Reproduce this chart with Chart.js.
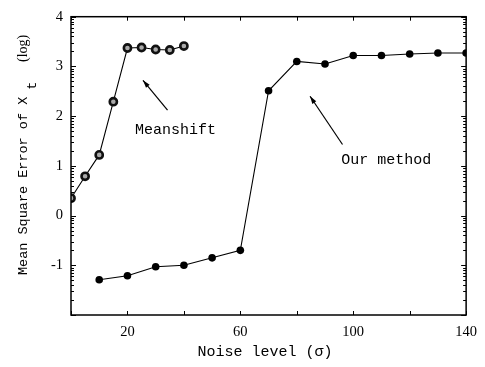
<!DOCTYPE html>
<html>
<head>
    <title>Mean Square Error vs Noise level</title>
    <style>
        body {margin: 0; background: #fff;}
        #wrap {width: 485px; height: 367px;}
    </style>
    <script src="https://cdn.jsdelivr.net/npm/chart.js"></script>
</head>
<body>
<div id="wrap"><canvas id="chart"></canvas></div>
<script>
    // noise level (sigma) and log10 of the error
    var meanshiftX = [0, 5, 10, 15, 20, 25, 30, 35, 40];
    var meanshiftY = [0.35, 0.79, 1.22, 2.29, 3.37, 3.38, 3.34, 3.33, 3.41];
    var ourX = [10, 20, 30, 40, 50, 60, 70, 80, 90, 100, 110, 120, 130, 140];
    var ourY = [-1.29, -1.21, -1.03, -1.0, -0.85, -0.70, 2.51, 3.10, 3.05, 3.22, 3.22, 3.25, 3.27, 3.27];
    var xTickLabels = [20, 60, 100, 140];
    var yTickLabels = [-1, 0, 1, 2, 3, 4];

    // text + arrow annotations, in data units
    var notes = [
        {text: 'Meanshift', x: 37.0, y: 1.72, head: [25.5, 2.72], tail: [34.2, 2.12]},
        {text: 'Our method', x: 111.7, y: 1.11, head: [84.7, 2.40], tail: [96.2, 1.43]}
    ];

    var FONT = '"Liberation Mono", "DejaVu Sans Mono", monospace';
    var SERIF = '"Liberation Serif", "DejaVu Serif", serif';

    function pts(xs, ys) {
        return xs.map(function(x, i) { return {x: x, y: ys[i]}; });
    }

    // frame, inward ticks, log minor ticks, titles and notes
    var decorations = {
        id: 'decorations',
        afterDatasetsDraw: function(chart) {
            var ctx = chart.ctx, a = chart.chartArea;
            var xs = chart.scales.x, ys = chart.scales.y;
            ctx.save();
            ctx.strokeStyle = '#000';
            ctx.lineWidth = 1.5;
            ctx.strokeRect(a.left, a.top, a.right - a.left, a.bottom - a.top);

            ctx.lineWidth = 1;
            ctx.beginPath();
            for (var v = 0; v <= 140; v += 20) {
                var px = Math.round(xs.getPixelForValue(v)) + 0.5;
                ctx.moveTo(px, a.bottom); ctx.lineTo(px, a.bottom - 4);
                ctx.moveTo(px, a.top); ctx.lineTo(px, a.top + 4);
            }
            for (var d = -2; d <= 4; d++) {
                var py = Math.round(ys.getPixelForValue(d)) + 0.5;
                ctx.moveTo(a.left, py); ctx.lineTo(a.left + 5, py);
                ctx.moveTo(a.right, py); ctx.lineTo(a.right - 5, py);
                if (d < 4) {
                    for (var k = 2; k <= 9; k++) {
                        var my = Math.round(ys.getPixelForValue(d + Math.log10(k))) + 0.5;
                        ctx.moveTo(a.left, my); ctx.lineTo(a.left + 3, my);
                        ctx.moveTo(a.right, my); ctx.lineTo(a.right - 3, my);
                    }
                }
            }
            ctx.stroke();

            // x title
            ctx.fillStyle = '#000';
            ctx.font = '15px ' + FONT;
            ctx.textAlign = 'center';
            ctx.textBaseline = 'middle';
            ctx.fillText('Noise level (\u03c3)', 265, 352);

            // y title with subscript t
            ctx.save();
            ctx.translate(23, 275);
            ctx.rotate(-Math.PI / 2);
            ctx.textAlign = 'left';
            ctx.font = '13.5px ' + FONT;
            var main = 'Mean Square Error of X';
            ctx.fillText(main, 0, 0);
            var w = ctx.measureText(main).width;
            ctx.fillText('t', w + 7, 9);
            ctx.font = '14px ' + SERIF;
            ctx.fillText('(log)', 213, 0);
            ctx.restore();

            // notes
            ctx.font = '15px ' + FONT;
            ctx.textAlign = 'center';
            notes.forEach(function(n) {
                ctx.fillText(n.text, xs.getPixelForValue(n.x), ys.getPixelForValue(n.y));
                var hx = xs.getPixelForValue(n.head[0]), hy = ys.getPixelForValue(n.head[1]);
                var tx = xs.getPixelForValue(n.tail[0]), ty = ys.getPixelForValue(n.tail[1]);
                ctx.lineWidth = 1.2;
                ctx.beginPath();
                ctx.moveTo(tx, ty); ctx.lineTo(hx, hy);
                ctx.stroke();
                var ang = Math.atan2(hy - ty, hx - tx);
                ctx.beginPath();
                ctx.moveTo(hx, hy);
                ctx.lineTo(hx - 8 * Math.cos(ang - 0.3), hy - 8 * Math.sin(ang - 0.3));
                ctx.lineTo(hx - 8 * Math.cos(ang + 0.3), hy - 8 * Math.sin(ang + 0.3));
                ctx.closePath();
                ctx.fill();
            });
            ctx.restore();
        }
    };

    var ctx = document.getElementById('chart').getContext('2d');
    var chart = new Chart(ctx, {
        type: 'scatter',
        data: {
            datasets: [
                {
                    label: 'Meanshift',
                    data: pts(meanshiftX, meanshiftY),
                    showLine: true,
                    borderColor: '#000',
                    borderWidth: 1.1,
                    pointRadius: 3.6,
                    pointBorderWidth: 2.6,
                    pointBorderColor: '#111',
                    pointBackgroundColor: '#aaa'
                },
                {
                    label: 'Our method',
                    data: pts(ourX, ourY),
                    showLine: true,
                    borderColor: '#000',
                    borderWidth: 1.1,
                    pointRadius: 3.8,
                    pointBorderWidth: 0,
                    pointBackgroundColor: '#000'
                }
            ]
        },
        options: {
            responsive: true,
            maintainAspectRatio: false,
            animation: false,
            layout: {padding: {top: 4, right: 18, left: 0, bottom: 0}},
            plugins: {legend: {display: false}, tooltip: {enabled: false}},
            scales: {
                x: {
                    type: 'linear',
                    min: 0, max: 140,
                    grid: {display: false, drawTicks: false},
                    border: {display: false},
                    afterFit: function(s) { s.height = 52; },
                    ticks: {
                        stepSize: 20,
                        padding: 8,
                        color: '#000',
                        font: {family: SERIF, size: 14.5},
                        maxRotation: 0,
                        autoSkip: false,
                        callback: function(v) { return xTickLabels.indexOf(v) >= 0 ? String(v) : ''; }
                    }
                },
                y: {
                    min: -2, max: 4,
                    grid: {display: false, drawTicks: false},
                    border: {display: false},
                    afterFit: function(s) { s.width = 71; },
                    ticks: {
                        stepSize: 1,
                        padding: 8,
                        color: '#000',
                        font: {family: SERIF, size: 14.5},
                        callback: function(v) { return yTickLabels.indexOf(v) >= 0 ? String(v) : ''; }
                    }
                }
            }
        },
        plugins: [decorations]
    });
</script>
</body>
</html>
